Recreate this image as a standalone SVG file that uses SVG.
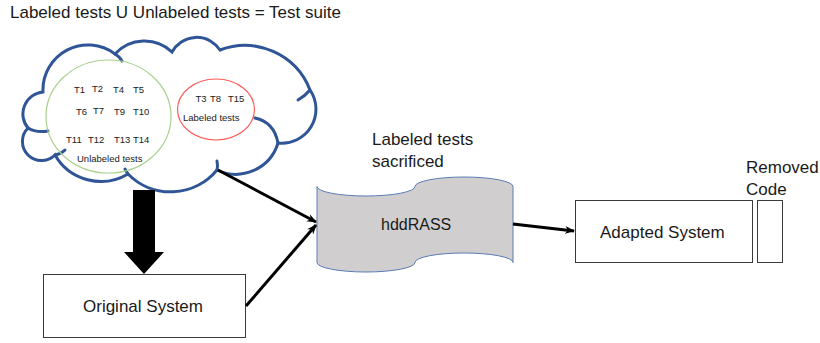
<svg xmlns="http://www.w3.org/2000/svg" width="820" height="343" viewBox="0 0 820 343">
<defs>
<style>
text{font-family:"Liberation Sans",Arial,sans-serif;fill:#1a1a1a}
.big{font-size:17px}
.sm{font-size:9.5px}
.cloud{fill:none;stroke:#2F5597;stroke-width:3;stroke-linecap:round}
.box{fill:#fff;stroke:#3a3a3a;stroke-width:1}
.conn{stroke:#000;stroke-width:3;fill:none}
</style>
<marker id="ah" markerWidth="10" markerHeight="10" refX="9" refY="5" orient="auto" markerUnits="userSpaceOnUse">
<path d="M0,1 L10,5 L0,9 L3,5 Z" fill="#000"/>
</marker>
</defs>
<rect width="820" height="343" fill="#fff"/>
<text class="big" x="10" y="18">Labeled tests U Unlabeled tests = Test suite</text>
<g id="cloud">
<path d="M43,92 A45,45 0 0 1 115,54 A40,40 0 0 1 172,52 A28,28 0 0 1 220,50 A70,70 0 0 1 310,90 A34,34 0 0 1 278,143 A44,44 0 0 1 217,170 A60,60 0 0 1 128,174 A53,53 0 0 1 55,155 A19,19 0 0 1 28,128 A22,22 0 0 1 43,92 Z" fill="#fff" stroke="#2F5597" stroke-width="3"/>
<path class="cloud" d="M115,54 Q120,57 122,61"/>
<path class="cloud" d="M310,90 Q305,96 298,100"/>
<path class="cloud" d="M255,118 Q274,122 278,143"/>
<path class="cloud" d="M217,170 Q218,166 217,161"/>
<path class="cloud" d="M128,174 Q126,171 125,169"/>
<path class="cloud" d="M28,128 Q36,133 48,131"/>
<path class="cloud" d="M55,155 Q61,154 65,150"/>
</g>
<g id="unlabeled">
<ellipse cx="108.5" cy="116.5" rx="62.5" ry="56.5" fill="none" stroke="#A9D18E" stroke-width="1.2"/>
<text class="sm" x="74" y="93">T1</text>
<text class="sm" x="92" y="91.5">T2</text>
<text class="sm" x="113" y="93">T4</text>
<text class="sm" x="133" y="93">T5</text>
<text class="sm" x="76" y="115">T6</text>
<text class="sm" x="93" y="114">T7</text>
<text class="sm" x="114" y="115">T9</text>
<text class="sm" x="133" y="115">T10</text>
<text class="sm" x="66" y="143">T11</text>
<text class="sm" x="88" y="143">T12</text>
<text class="sm" x="114" y="143">T13</text>
<text class="sm" x="133" y="143">T14</text>
<text class="sm" x="77" y="162">Unlabeled tests</text>
</g>
<g id="labeled">
<ellipse cx="216" cy="109.5" rx="38.5" ry="30.5" fill="none" stroke="#FF5B5B" stroke-width="1.2"/>
<text class="sm" x="195.5" y="102">T3</text>
<text class="sm" x="210" y="102">T8</text>
<text class="sm" x="228" y="102">T15</text>
<text class="sm" x="183" y="121">Labeled tests</text>
</g>
<g id="original-system">
<rect class="box" x="43.5" y="274.5" width="202" height="63"/>
<text class="big" x="83" y="312">Original System</text>
</g>
<g id="hddrass">
<text class="big" x="372" y="145">Labeled tests</text>
<text class="big" x="372" y="167">sacrificed</text>
<path d="M317,186.5 A49,9.5 0 0 0 415,186.5 A49,9.5 0 0 1 513,186.5 L513,262.5 A49,9.5 0 0 0 415,262.5 A49,9.5 0 0 1 317,262.5 Z" fill="#D0CECE" stroke="#5A7DB8" stroke-width="1"/>
<text class="big" x="381" y="230" style="font-size:16px">hddRASS</text>
</g>
<g id="adapted-system">
<rect class="box" x="575.5" y="200.5" width="177" height="62"/>
<text class="big" x="600" y="238">Adapted System</text>
</g>
<g id="removed-code">
<rect class="box" x="757.5" y="200.5" width="25" height="62"/>
<text class="big" x="746" y="173">Removed</text>
<text class="big" x="746" y="195">Code</text>
</g>
<g id="connectors">
<path d="M133,190 L155,190 L155,252 L164,252 L144,274 L124,252 L133,252 Z" fill="#000"/>
<path class="conn" d="M218,170 L316,222" marker-end="url(#ah)"/>
<path class="conn" d="M246,306 L316,225" marker-end="url(#ah)"/>
<path class="conn" d="M513,224 L574,231" marker-end="url(#ah)"/>
</g>
</svg>
